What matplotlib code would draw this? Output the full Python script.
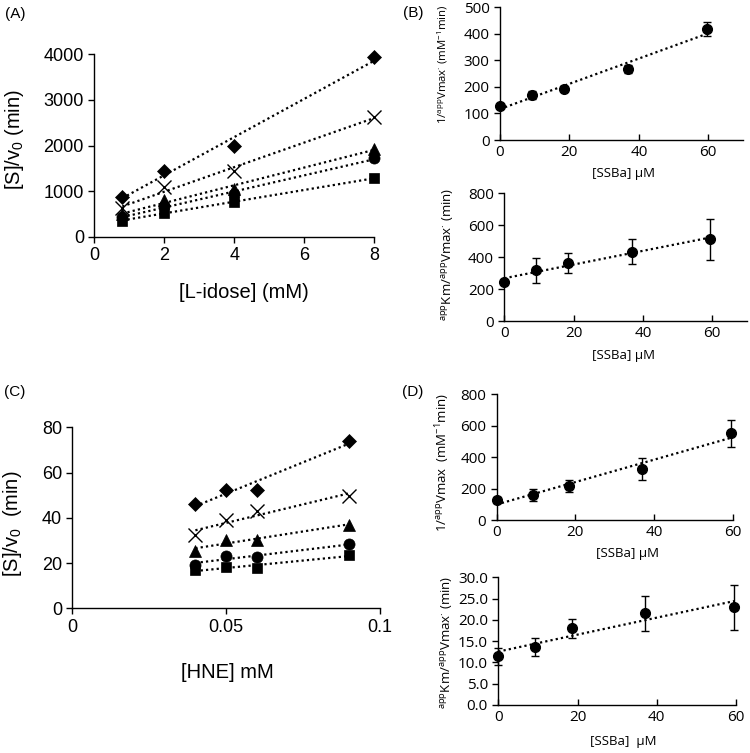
import numpy as np
import matplotlib
matplotlib.use("Agg")
import matplotlib.pyplot as plt

plt.rcParams['mathtext.default'] = 'regular'

# ---------------- data ----------------
# Panel A: [S]/v0 vs [L-idose]
idose = [0.8, 2, 4, 8]
A_diamond = [880, 1430, 2000, 3930]
A_cross = [620, 1090, 1450, 2620]
A_triangle = [500, 800, 1050, 1930]
A_circle = [430, 680, 930, 1720]
A_square = [350, 520, 770, 1280]

# Panel C: [S]/v0 vs [HNE]
hne = [0.04, 0.05, 0.06, 0.09]
C_diamond = [46.0, 52.5, 52.4, 74.0]
C_cross = [32.3, 39.0, 43.0, 49.8]
C_triangle = [25.5, 30.3, 30.3, 37.0]
C_circle = [19.3, 23.2, 22.6, 28.2]
C_square = [17.0, 18.3, 17.6, 23.6]

# Secondary plots: x = [SSBa] uM
ssba = [0, 9.2, 18.5, 37, 59.5]
B1_y = [128, 168, 193, 267, 418]
B1_err = [8, 15, 10, 15, 28]
B2_y = [246, 318, 361, 435, 512]
B2_err = [10, 78, 63, 80, 128]
D1_y = [127, 159, 216, 324, 550]
D1_err = [20, 37, 40, 68, 85]
D2_y = [11.4, 13.6, 18.0, 21.5, 23.0]
D2_err = [2.0, 2.2, 2.3, 4.2, 5.3]

W, H = 750, 753
fig = plt.figure(figsize=(W / 100, H / 100), dpi=100)


def axes_px(l, r, t, b):
    return fig.add_axes([l / W, 1 - b / H, (r - l) / W, (b - t) / H])


def ftext(x, y, s, **kw):
    fig.text(x / W, 1 - y / H, s, ha='center', va='center', **kw)


ARIAL = 'Liberation Sans'
CAL = 'Open Sans'
dot = (0, (1, 1.4))


def style(ax, fam, fs, xdir='out'):
    for s in ['top', 'right']:
        ax.spines[s].set_visible(False)
    for s in ['left', 'bottom']:
        ax.spines[s].set_linewidth(1.0)
    ax.tick_params(axis='y', direction='out', length=4, width=1, labelsize=fs)
    ax.tick_params(axis='x', direction=xdir, length=4, width=1, labelsize=fs)
    for lab in ax.get_xticklabels() + ax.get_yticklabels():
        lab.set_family(fam)


def fitline(ax, x, y):
    x = np.asarray(x, float)
    y = np.asarray(y, float)
    k, b = np.polyfit(x, y, 1)
    xs = np.array([x.min(), x.max()])
    ax.plot(xs, k * xs + b, color='black', lw=1.6, ls=dot, zorder=2)


# ---------------- Panel A ----------------
axA = axes_px(94.3, 374.3, 54.3, 236.7)
seriesA = [(A_diamond, 'D', 7), (A_cross, 'x', 10), (A_triangle, '^', 8),
           (A_circle, 'o', 8), (A_square, 's', 7)]
for ys, m, ms in seriesA:
    fitline(axA, idose, ys)
    axA.plot(idose, ys, ls='none', marker=m, ms=ms, color='black',
             mew=1.0 if m == 'x' else 0.5, zorder=3, clip_on=False)
axA.set_xlim(0, 8)
axA.set_ylim(0, 4000)
axA.set_xticks([0, 2, 4, 6, 8])
axA.set_yticks([0, 1000, 2000, 3000, 4000])
style(axA, ARIAL, 13)

ftext(15, 14, '(A)', family=ARIAL, fontsize=11)
ftext(14, 140, '[S]/v$_0$ (min)', family=ARIAL, fontsize=14.5, rotation=90)
ftext(244, 293, '[L-idose] (mM)', family=ARIAL, fontsize=14.5)

# ---------------- Panel C ----------------
axC = axes_px(72.3, 380, 427.3, 608.3)
seriesC = [(C_diamond, 'D', 7), (C_cross, 'x', 10), (C_triangle, '^', 8),
           (C_circle, 'o', 8), (C_square, 's', 7)]
for ys, m, ms in seriesC:
    fitline(axC, hne, ys)
    axC.plot(hne, ys, ls='none', marker=m, ms=ms, color='black',
             mew=1.0 if m == 'x' else 0.5, zorder=3, clip_on=False)
axC.set_xlim(0, 0.1)
axC.set_ylim(0, 80)
axC.set_xticks([0, 0.05, 0.1])
axC.set_xticklabels(['0', '0.05', '0.1'])
axC.set_yticks([0, 20, 40, 60, 80])
style(axC, ARIAL, 13)

ftext(15, 392, '(C)', family=ARIAL, fontsize=11)
ftext(13, 524, '[S]/v$_0$  (min)', family=ARIAL, fontsize=14.5, rotation=90)
ftext(227, 672, '[HNE] mM', family=ARIAL, fontsize=14.5)


# ---------------- secondary plots ----------------
def secondary(l, r, t, b, xmax, y, err, ylim, yticks, fmt=None):
    ax = axes_px(l, r, t, b)
    fitline(ax, ssba, y)
    ax.errorbar(ssba, y, yerr=err, fmt='o', color='black', ms=7,
                ecolor='black', elinewidth=1, capsize=3, capthick=1,
                zorder=3, clip_on=False)
    ax.set_xlim(0, xmax)
    ax.set_ylim(*ylim)
    ax.set_xticks([0, 20, 40, 60])
    ax.set_yticks(yticks)
    if fmt:
        ax.set_yticklabels([fmt % v for v in yticks])
    style(ax, CAL, 11, xdir='in')
    return ax


secondary(500, 743, 7.3, 140, 70, B1_y, B1_err, (0, 500), [0, 100, 200, 300, 400, 500])
secondary(504.3, 746.7, 193.3, 321, 70, B2_y, B2_err, (0, 800), [0, 200, 400, 600, 800])
secondary(496.7, 732.7, 394, 520, 60, D1_y, D1_err, (0, 800), [0, 200, 400, 600, 800])
secondary(498.3, 736, 577.3, 705, 60, D2_y, D2_err, (0, 30),
          [0, 5, 10, 15, 20, 25, 30], fmt='%.1f')

ftext(413, 13, '(B)', family=ARIAL, fontsize=11)
ftext(413, 392, '(D)', family=ARIAL, fontsize=11)

lab1 = '1/$^{app}$Vmax$^{\\cdot}$ (mM$^{-1}$min)'
lab2 = '$^{app}$Km/$^{app}$Vmax$^{\\cdot}$ (min)'
ftext(443, 64, lab1, family=CAL, fontsize=8.2, rotation=90)
ftext(448, 254, lab2, family=CAL, fontsize=9.5, rotation=90)
ftext(443, 462, lab1.replace('$^{\\cdot}$', ' '), family=CAL, fontsize=9.5, rotation=90)
ftext(447, 642, lab2, family=CAL, fontsize=9.5, rotation=90)

ftext(623, 174, '[SSBa] μM', family=CAL, fontsize=9.5)
ftext(623, 356, '[SSBa] μM', family=CAL, fontsize=9.5)
ftext(627, 553, '[SSBa] μM', family=CAL, fontsize=9.5)
ftext(623, 742, '[SSBa]  μM', family=CAL, fontsize=9.5)

fig.savefig('out.png', dpi=100)
